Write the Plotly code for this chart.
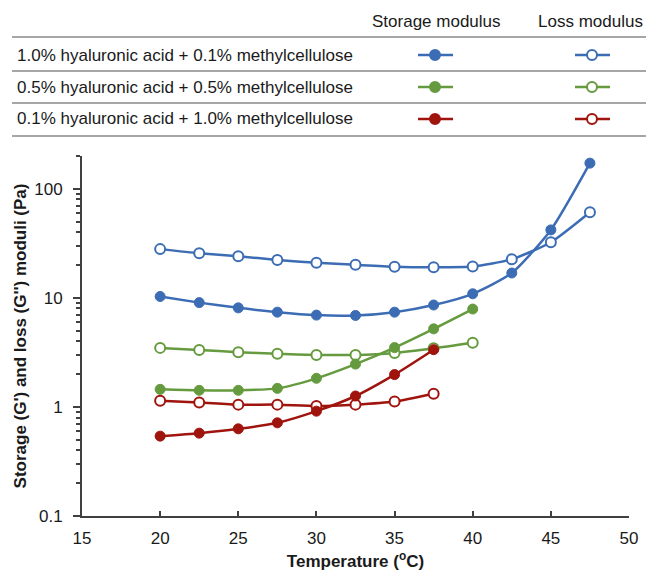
import plotly.graph_objects as go

temps = [20, 22.5, 25, 27.5, 30, 32.5, 35, 37.5, 40, 42.5, 45, 47.5]

series_names = [
    "1.0% hyaluronic acid + 0.1% methylcellulose",
    "0.5% hyaluronic acid + 0.5% methylcellulose",
    "0.1% hyaluronic acid + 1.0% methylcellulose",
]
colors = ["#3C6DB4", "#659B3E", "#A0140E"]

storage_1 = [10.3, 9.05, 8.1, 7.4, 6.95, 6.9, 7.4, 8.6, 10.9, 16.9, 42.0, 172]
loss_1 = [28.0, 25.7, 24.1, 22.3, 21.0, 20.1, 19.3, 19.1, 19.4, 22.6, 32.4, 61.0]
storage_2 = [1.45, 1.42, 1.42, 1.48, 1.83, 2.47, 3.5, 5.2, 7.9]
loss_2 = [3.48, 3.33, 3.18, 3.07, 3.0, 3.0, 3.13, 3.45, 3.88]
storage_3 = [0.54, 0.575, 0.63, 0.715, 0.915, 1.26, 1.98, 3.35]
loss_3 = [1.14, 1.10, 1.05, 1.05, 1.02, 1.05, 1.12, 1.32]

storage = [storage_1, storage_2, storage_3]
loss = [loss_1, loss_2, loss_3]

x_ticks = [15, 20, 25, 30, 35, 40, 45, 50]
y_ticks = [0.1, 1, 10, 100]
y_tick_text = ["0.1", "1", "10", "100"]

W, H = 646, 573
L, R, T, B = 82, 17, 156, 57
pw, ph = W - L - R, H - T - B

def px(x):
    return (x - L) / pw

def py(y):
    return (H - B - y) / ph

fig = go.Figure()
for i in range(3):
    n_s = len(storage[i])
    n_l = len(loss[i])
    fig.add_trace(go.Scatter(
        x=temps[:n_l], y=loss[i], mode="lines+markers",
        line=dict(color=colors[i], width=2.5, shape="spline", smoothing=0.6),
        marker=dict(symbol="circle", size=10, color="white",
                    line=dict(color=colors[i], width=2)),
        showlegend=False, cliponaxis=False))
    fig.add_trace(go.Scatter(
        x=temps[:n_s], y=storage[i], mode="lines+markers",
        line=dict(color=colors[i], width=2.5, shape="spline", smoothing=0.6),
        marker=dict(symbol="circle", size=10, color=colors[i],
                    line=dict(color=colors[i], width=1)),
        showlegend=False, cliponaxis=False))

font_family = "Liberation Sans, Arial, sans-serif"
shapes = []
annotations = []

# table-like legend
row_lines = [37, 71, 103, 136]
for yl in row_lines:
    shapes.append(dict(type="line", xref="paper", yref="paper",
                       x0=px(12), x1=px(646), y0=py(yl), y1=py(yl),
                       line=dict(color="#A6A6A6", width=2)))

annotations.append(dict(text="Storage modulus", xref="paper", yref="paper",
                        x=px(436), y=py(21), xanchor="center", yanchor="middle",
                        showarrow=False, font=dict(size=17, color="#1a1a1a", family=font_family)))
annotations.append(dict(text="Loss modulus", xref="paper", yref="paper",
                        x=px(590), y=py(21), xanchor="center", yanchor="middle",
                        showarrow=False, font=dict(size=17, color="#1a1a1a", family=font_family)))

row_y = [55, 87, 119]
for i in range(3):
    annotations.append(dict(text=series_names[i], xref="paper", yref="paper",
                            x=px(15), y=py(row_y[i]), xanchor="left", yanchor="middle",
                            showarrow=False, font=dict(size=17, color="#1a1a1a", family=font_family)))
    for cx, filled in [(435, True), (592, False)]:
        shapes.append(dict(type="line", xref="paper", yref="paper",
                           x0=px(cx - 17), x1=px(cx + 18), y0=py(row_y[i]), y1=py(row_y[i]),
                           line=dict(color=colors[i], width=2.5)))
        r = 5
        shapes.append(dict(type="circle", xref="paper", yref="paper",
                           x0=px(cx - r), x1=px(cx + r), y0=py(row_y[i] + r), y1=py(row_y[i] - r),
                           fillcolor=colors[i] if filled else "white",
                           line=dict(color=colors[i], width=2)))

fig.update_layout(
    width=W, height=H,
    margin=dict(l=L, r=R, t=T, b=B),
    paper_bgcolor="white", plot_bgcolor="white",
    font=dict(family=font_family, size=17, color="#1a1a1a"),
    shapes=shapes, annotations=annotations,
    xaxis=dict(range=[15, 50], tickvals=x_ticks, ticks="inside", ticklen=5,
               tickwidth=1.5, tickcolor="#404040", automargin=False,
               showline=True, linecolor="#404040", linewidth=2, showgrid=False,
               zeroline=False, ticklabelstandoff=6,
               title=dict(text="<b>Temperature (<sup>o</sup>C)</b>", font=dict(size=17), standoff=8),
               tickfont=dict(size=17)),
    yaxis=dict(type="log", range=[-1, 2.301], tickvals=y_ticks, ticktext=y_tick_text,
               ticks="outside", ticklen=7, tickwidth=1.5, tickcolor="#404040", automargin=False,
               minor=dict(ticks="outside", ticklen=4, tickwidth=1.5, tickcolor="#404040",
                          showgrid=False,
                          tickvals=[0.2, 0.3, 0.4, 0.5, 0.6, 0.7, 0.8, 0.9,
                                    2, 3, 4, 5, 6, 7, 8, 9,
                                    20, 30, 40, 50, 60, 70, 80, 90, 200]),
               showline=True, linecolor="#404040", linewidth=2, showgrid=False,
               zeroline=False, ticklabelstandoff=7,
               title=dict(text="<b>Storage (G') and loss (G'') moduli (Pa)</b>", font=dict(size=17), standoff=3),
               tickfont=dict(size=17)),
)

fig.write_html("out.html")
